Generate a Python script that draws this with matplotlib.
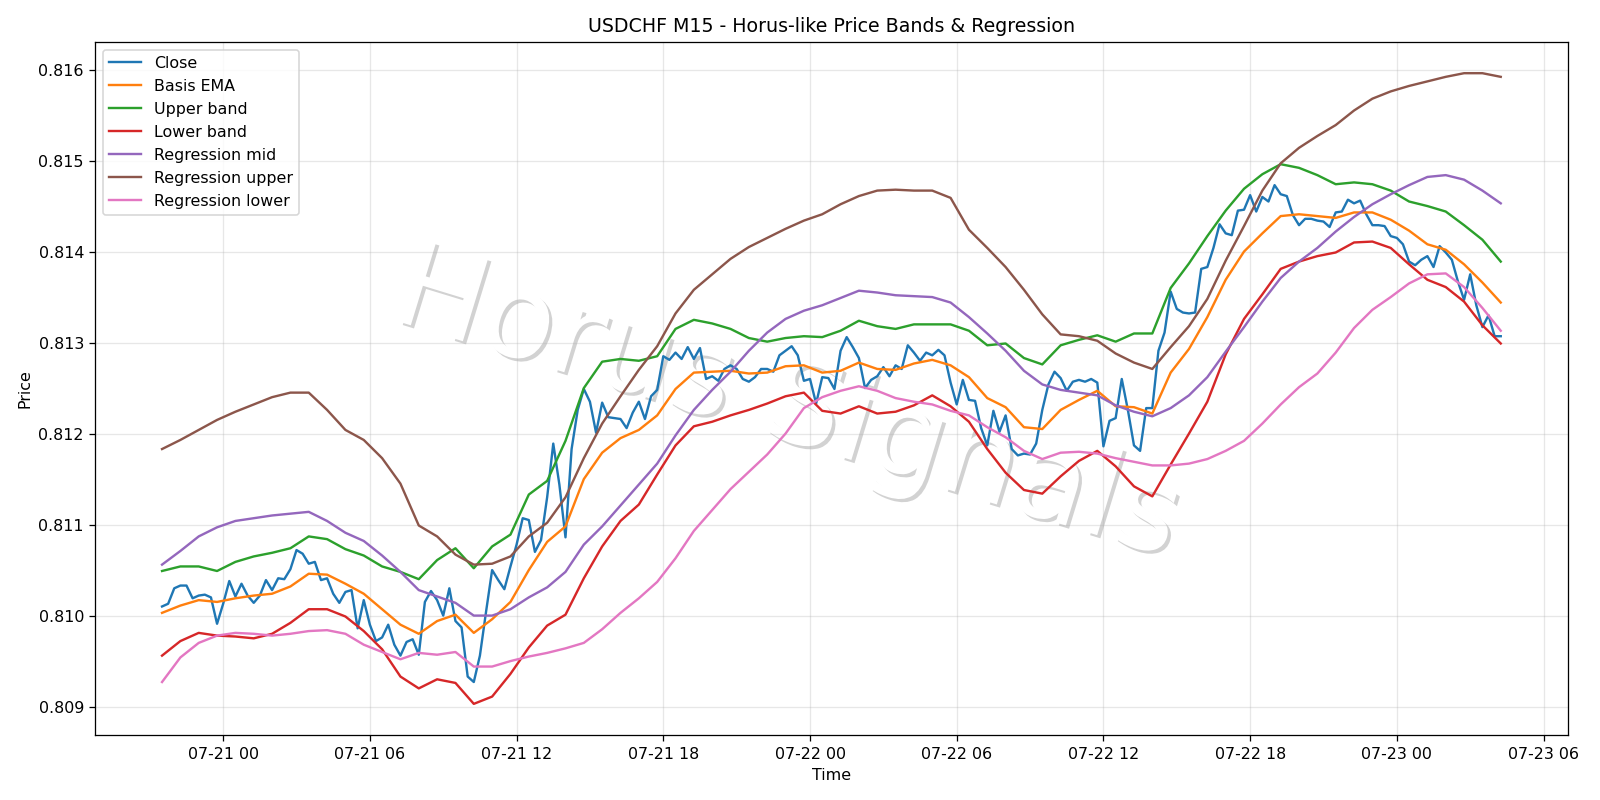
import numpy as np
import pandas as pd
import matplotlib
matplotlib.use("Agg")
import matplotlib.pyplot as plt
import matplotlib.dates as mdates
from matplotlib import patheffects as pe

# USDCHF M15 close, 07-20 21:30 -> 07-23 04:15
close = [
    0.81010, 0.81013, 0.81030, 0.81033, 0.81033, 0.81019, 0.81022, 0.81023, 0.81020, 0.80991,
    0.81013, 0.81038, 0.81021, 0.81035, 0.81022, 0.81014, 0.81022, 0.81039, 0.81028, 0.81041,
    0.81040, 0.81051, 0.81072, 0.81068, 0.81057, 0.81059, 0.81039, 0.81041, 0.81024, 0.81014,
    0.81026, 0.81028, 0.80986, 0.81017, 0.80990, 0.80972, 0.80976, 0.80990, 0.80968, 0.80956,
    0.80971, 0.80974, 0.80957,
    0.81015, 0.81027, 0.81017, 0.81000, 0.81030, 0.80994, 0.80987, 0.80933, 0.80927, 0.80956,
    0.81004, 0.81050, 0.81039, 0.81029, 0.81054, 0.81078, 0.81107, 0.81105, 0.81070, 0.81083,
    0.81130, 0.81189, 0.81144, 0.81086, 0.81183, 0.81226, 0.81249, 0.81235, 0.81201, 0.81234,
    0.81218, 0.81217, 0.81216, 0.81206, 0.81223, 0.81235, 0.81216, 0.81241, 0.81248, 0.81285,
    0.81281,
    0.81289, 0.81282, 0.81295, 0.81282, 0.81294, 0.81260, 0.81263, 0.81258, 0.81271, 0.81275,
    0.81271, 0.81260, 0.81257, 0.81262, 0.81271, 0.81271, 0.81268, 0.81286, 0.81291, 0.81296,
    0.81286, 0.81258, 0.81260, 0.81233, 0.81262, 0.81261, 0.81249, 0.81291, 0.81306, 0.81295,
    0.81283, 0.81250, 0.81259, 0.81263, 0.81273, 0.81263, 0.81275, 0.81271, 0.81297, 0.81289,
    0.81280, 0.81289, 0.81286, 0.81292,
    0.81286, 0.81256, 0.81232, 0.81259, 0.81237, 0.81236, 0.81206, 0.81187, 0.81225, 0.81202,
    0.81220, 0.81183, 0.81176, 0.81178, 0.81177, 0.81189, 0.81226, 0.81254, 0.81268, 0.81261,
    0.81247, 0.81257, 0.81259, 0.81257, 0.81260, 0.81256, 0.81186, 0.81214, 0.81217, 0.81260,
    0.81226, 0.81187, 0.81181, 0.81228, 0.81228, 0.81291,
    0.81311, 0.81356, 0.81337, 0.81333, 0.81332, 0.81333, 0.81381, 0.81383, 0.81404, 0.81430,
    0.81420, 0.81418, 0.81445, 0.81446, 0.81462, 0.81444, 0.81460, 0.81455, 0.81473, 0.81463,
    0.81461, 0.81440, 0.81429, 0.81436, 0.81436, 0.81434, 0.81433, 0.81427, 0.81443, 0.81444,
    0.81457, 0.81453, 0.81456, 0.81441, 0.81429, 0.81429, 0.81428, 0.81417, 0.81415, 0.81408,
    0.81389, 0.81385, 0.81391,
    0.81395, 0.81383, 0.81406, 0.81399, 0.81391, 0.81367, 0.81347, 0.81375, 0.81341, 0.81317,
    0.81330, 0.81307, 0.81307,
]

# band / regression lines, read every 45 min
basis_ema = [
    0.81003, 0.81011, 0.81017, 0.81015, 0.81019, 0.81022, 0.81024, 0.81032, 0.81046, 0.81045,
    0.81035, 0.81024, 0.81007, 0.80990, 0.80980, 0.80994, 0.81001, 0.80981, 0.80996, 0.81015,
    0.81050, 0.81081, 0.81098, 0.81150, 0.81179, 0.81195, 0.81204, 0.81220, 0.81249, 0.81267,
    0.81268, 0.81269, 0.81266, 0.81267, 0.81274, 0.81275, 0.81267, 0.81269, 0.81278, 0.81271,
    0.81270, 0.81277, 0.81281, 0.81275, 0.81262, 0.81239, 0.81229, 0.81207, 0.81205, 0.81226,
    0.81237, 0.81247, 0.81230, 0.81229, 0.81222, 0.81267, 0.81293, 0.81328, 0.81369, 0.81400,
    0.81420, 0.81439, 0.81441, 0.81439, 0.81437, 0.81443, 0.81443, 0.81435, 0.81423, 0.81408,
    0.81402, 0.81386, 0.81366, 0.81344,
]
upper_band = [
    0.81049, 0.81054, 0.81054, 0.81049, 0.81059, 0.81065, 0.81069, 0.81074, 0.81087, 0.81084,
    0.81073, 0.81066, 0.81054, 0.81048, 0.81040, 0.81061, 0.81074, 0.81052, 0.81076, 0.81089,
    0.81133, 0.81148, 0.81192, 0.81250, 0.81279, 0.81282, 0.81280, 0.81285, 0.81315, 0.81325,
    0.81321, 0.81315, 0.81305, 0.81301, 0.81305, 0.81307, 0.81306, 0.81313, 0.81324, 0.81318,
    0.81315, 0.81320, 0.81320, 0.81320, 0.81313, 0.81297, 0.81299, 0.81283, 0.81276, 0.81297,
    0.81303, 0.81308, 0.81301, 0.81310, 0.81310, 0.81360, 0.81387, 0.81417, 0.81445, 0.81469,
    0.81485, 0.81496, 0.81492, 0.81484, 0.81474, 0.81476, 0.81474, 0.81467, 0.81455, 0.81450,
    0.81444, 0.81429, 0.81413, 0.81389,
]
lower_band = [
    0.80956, 0.80972, 0.80981, 0.80978, 0.80977, 0.80975, 0.80980, 0.80992, 0.81007, 0.81007,
    0.80999, 0.80983, 0.80963, 0.80933, 0.80920, 0.80930, 0.80926, 0.80903, 0.80911, 0.80936,
    0.80965, 0.80989, 0.81001, 0.81041, 0.81076, 0.81104, 0.81122, 0.81155, 0.81187, 0.81208,
    0.81213, 0.81220, 0.81226, 0.81233, 0.81241, 0.81245, 0.81225, 0.81222, 0.81230, 0.81222,
    0.81224, 0.81231, 0.81242, 0.81230, 0.81213, 0.81183, 0.81157, 0.81138, 0.81134, 0.81153,
    0.81170, 0.81181, 0.81164, 0.81142, 0.81131, 0.81166, 0.81200, 0.81235, 0.81287, 0.81326,
    0.81353, 0.81381, 0.81389, 0.81395, 0.81399, 0.81410, 0.81411, 0.81404, 0.81386, 0.81369,
    0.81361, 0.81345, 0.81319, 0.81299,
]
reg_mid = [
    0.81056, 0.81071, 0.81087, 0.81097, 0.81104, 0.81107, 0.81110, 0.81112, 0.81114, 0.81104,
    0.81091, 0.81082, 0.81066, 0.81048, 0.81028, 0.81021, 0.81014, 0.81000, 0.81000, 0.81007,
    0.81020, 0.81031, 0.81048, 0.81078, 0.81098, 0.81121, 0.81144, 0.81167, 0.81198, 0.81226,
    0.81248, 0.81268, 0.81291, 0.81311, 0.81326, 0.81335, 0.81341, 0.81349, 0.81357, 0.81355,
    0.81352, 0.81351, 0.81350, 0.81344, 0.81328, 0.81310, 0.81291, 0.81269, 0.81254, 0.81248,
    0.81245, 0.81242, 0.81231, 0.81224, 0.81219, 0.81228, 0.81242, 0.81262, 0.81290, 0.81317,
    0.81345, 0.81371, 0.81389, 0.81404, 0.81422, 0.81438, 0.81452, 0.81463, 0.81473, 0.81482,
    0.81484, 0.81479, 0.81467, 0.81453,
]
reg_upper = [
    0.81183, 0.81193, 0.81204, 0.81215, 0.81224, 0.81232, 0.81240, 0.81245, 0.81245, 0.81226,
    0.81204, 0.81193, 0.81173, 0.81145, 0.81099, 0.81087, 0.81067, 0.81056, 0.81057, 0.81065,
    0.81087, 0.81102, 0.81130, 0.81173, 0.81211, 0.81241, 0.81270, 0.81296, 0.81332, 0.81358,
    0.81375, 0.81392, 0.81405, 0.81415, 0.81425, 0.81434, 0.81441, 0.81452, 0.81461, 0.81467,
    0.81468, 0.81467, 0.81467, 0.81459, 0.81424, 0.81404, 0.81383, 0.81358, 0.81331, 0.81309,
    0.81307, 0.81302, 0.81288, 0.81278, 0.81271, 0.81295, 0.81318, 0.81348, 0.81390, 0.81428,
    0.81467, 0.81497, 0.81514, 0.81527, 0.81539, 0.81555, 0.81568, 0.81576, 0.81582, 0.81587,
    0.81592, 0.81596, 0.81596, 0.81592,
]
reg_lower = [
    0.80927, 0.80954, 0.80970, 0.80978, 0.80981, 0.80980, 0.80978, 0.80980, 0.80983, 0.80984,
    0.80980, 0.80968, 0.80960, 0.80952, 0.80959, 0.80957, 0.80960, 0.80944, 0.80944, 0.80950,
    0.80955, 0.80959, 0.80964, 0.80970, 0.80985, 0.81003, 0.81019, 0.81037, 0.81063, 0.81093,
    0.81116, 0.81139, 0.81158, 0.81177, 0.81200, 0.81228, 0.81240, 0.81247, 0.81252, 0.81247,
    0.81239, 0.81235, 0.81232, 0.81225, 0.81220, 0.81207, 0.81196, 0.81181, 0.81172, 0.81179,
    0.81180, 0.81178, 0.81173, 0.81169, 0.81165, 0.81165, 0.81167, 0.81172, 0.81181, 0.81192,
    0.81211, 0.81232, 0.81251, 0.81266, 0.81289, 0.81316, 0.81336, 0.81350, 0.81365, 0.81375,
    0.81376, 0.81361, 0.81338, 0.81313,
]

t_close = pd.date_range("2025-07-20 21:30", periods=len(close), freq="15min")
t_band = pd.date_range("2025-07-20 21:30", periods=len(basis_ema), freq="45min")

fig, ax = plt.subplots(figsize=(14, 7), dpi=800 / 7)

ax.plot(t_close, close, label="Close", color="C0", lw=1.5)
ax.plot(t_band, basis_ema, label="Basis EMA", color="C1", lw=1.5)
ax.plot(t_band, upper_band, label="Upper band", color="C2", lw=1.5)
ax.plot(t_band, lower_band, label="Lower band", color="C3", lw=1.5)
ax.plot(t_band, reg_mid, label="Regression mid", color="C4", lw=1.5)
ax.plot(t_band, reg_upper, label="Regression upper", color="C5", lw=1.5)
ax.plot(t_band, reg_lower, label="Regression lower", color="C6", lw=1.5)

# watermark
ax.text(0.47, 0.475, "Horus Signals", transform=ax.transAxes, fontsize=75,
        color="white", rotation=-17, ha="center", va="center", zorder=0.5,
        path_effects=[pe.withSimplePatchShadow(offset=(2, -2), shadow_rgbFace="gray", alpha=0.35)])

ax.xaxis.set_major_locator(mdates.HourLocator(byhour=[0, 6, 12, 18]))
ax.xaxis.set_major_formatter(mdates.DateFormatter("%m-%d %H"))
ax.set_title("USDCHF M15 - Horus-like Price Bands & Regression")
ax.set_xlabel("Time")
ax.set_ylabel("Price")
ax.grid(True, alpha=0.3)
ax.legend(loc="upper left")

fig.tight_layout()
fig.savefig("out.png")
